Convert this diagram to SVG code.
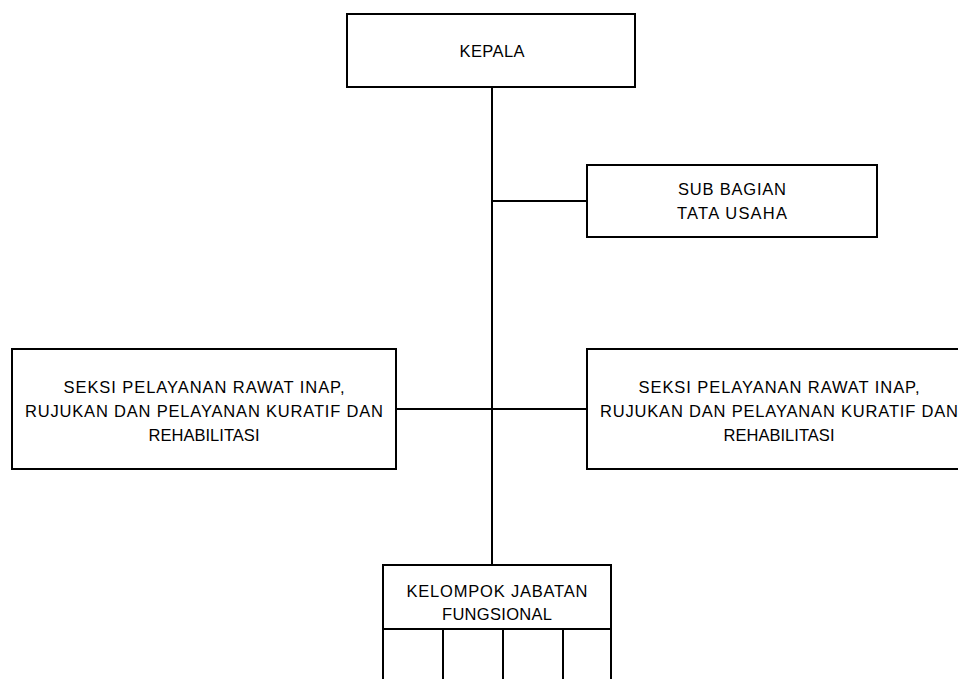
<svg xmlns="http://www.w3.org/2000/svg" width="958" height="679" viewBox="0 0 958 679">
<style>
.box{fill:#ffffff;stroke:#000000;stroke-width:2}
.ln{stroke:#000000;stroke-width:2;fill:none}
.t{font-family:"Liberation Sans",Arial,sans-serif;font-size:16.5px;fill:#000000;text-anchor:middle}
</style>
<rect width="958" height="679" fill="#ffffff"/>
<g id="connectors">
<line class="ln" x1="492" y1="87" x2="492" y2="565"/>
<line class="ln" x1="492" y1="201" x2="587" y2="201"/>
<line class="ln" x1="396" y1="409" x2="587" y2="409"/>
</g>
<g id="kepala">
<rect class="box" x="347" y="14" width="288" height="73"/>
<text class="t" x="492" y="57" textLength="65" lengthAdjust="spacing">KEPALA</text>
</g>
<g id="sub-bagian">
<rect class="box" x="587" y="165" width="290" height="72"/>
<text class="t" x="732" y="195" textLength="108" lengthAdjust="spacing">SUB BAGIAN</text>
<text class="t" x="732" y="219" textLength="110" lengthAdjust="spacing">TATA USAHA</text>
</g>
<g id="seksi-kiri">
<rect class="box" x="12" y="349" width="384" height="120"/>
<text class="t" x="204" y="393" textLength="281" lengthAdjust="spacing">SEKSI PELAYANAN RAWAT INAP,</text>
<text class="t" x="204" y="417" textLength="358" lengthAdjust="spacing">RUJUKAN DAN PELAYANAN KURATIF DAN</text>
<text class="t" x="204" y="441" textLength="111" lengthAdjust="spacing">REHABILITASI</text>
</g>
<g id="seksi-kanan">
<rect class="box" x="587" y="349" width="384" height="120"/>
<text class="t" x="779" y="393" textLength="281" lengthAdjust="spacing">SEKSI PELAYANAN RAWAT INAP,</text>
<text class="t" x="779" y="417" textLength="358" lengthAdjust="spacing">RUJUKAN DAN PELAYANAN KURATIF DAN</text>
<text class="t" x="779" y="441" textLength="111" lengthAdjust="spacing">REHABILITASI</text>
</g>
<g id="kelompok-jabatan-fungsional">
<rect class="box" x="383" y="565" width="228" height="130"/>
<line class="ln" x1="383" y1="629" x2="611" y2="629"/>
<line class="ln" x1="443" y1="629" x2="443" y2="679"/>
<line class="ln" x1="503" y1="629" x2="503" y2="679"/>
<line class="ln" x1="563" y1="629" x2="563" y2="679"/>
<text class="t" x="497" y="597" textLength="181" lengthAdjust="spacing">KELOMPOK JABATAN</text>
<text class="t" x="497" y="620" textLength="110" lengthAdjust="spacing">FUNGSIONAL</text>
</g>
</svg>
